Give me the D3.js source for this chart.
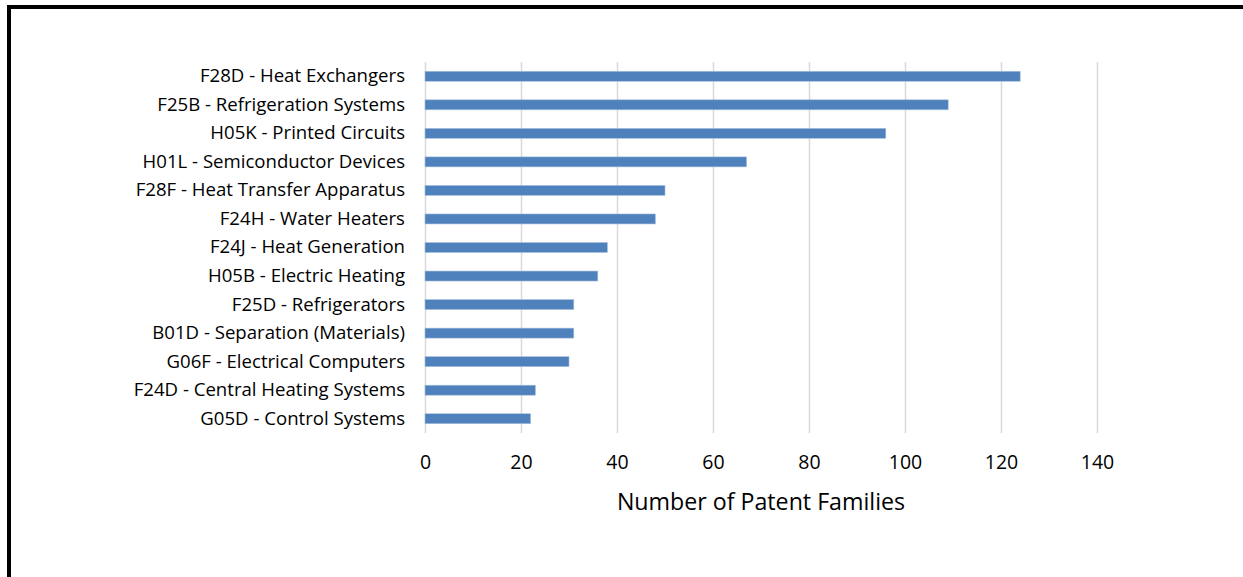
<!DOCTYPE html>
<html>
<head>
<meta charset="utf-8">
<script src="https://cdn.jsdelivr.net/npm/d3@7"></script>
<style>
  body { margin: 0; background: #fff; }
  svg { display: block; font-family: "Open Sans", sans-serif; }
  .grid line { stroke: #d9d9d9; stroke-width: 1.5; }
  .grid path { display: none; }
  .xaxis path, .xaxis line, .yaxis path, .yaxis line { display: none; }
</style>
</head>
<body>
<script>
const categories = [
  "F28D - Heat Exchangers",
  "F25B - Refrigeration Systems",
  "H05K - Printed Circuits",
  "H01L - Semiconductor Devices",
  "F28F - Heat Transfer Apparatus",
  "F24H - Water Heaters",
  "F24J - Heat Generation",
  "H05B - Electric Heating",
  "F25D - Refrigerators",
  "B01D - Separation (Materials)",
  "G06F - Electrical Computers",
  "F24D - Central Heating Systems",
  "G05D - Control Systems"
];
const values = [124, 109, 96, 67, 50, 48, 38, 36, 31, 31, 30, 23, 22];
const xTicks = [0, 20, 40, 60, 80, 100, 120, 140];
const xTitle = "Number of Patent Families";

const W = 1243, H = 577;
const plot = {left: 425, right: 1097, top: 62, bottom: 433};

const svg = d3.select("body").append("svg")
    .attr("width", W)
    .attr("height", H);

// outer frame (only top and left visible in the crop)
svg.append("rect")
    .attr("x", 9).attr("y", 7)
    .attr("width", W + 20).attr("height", H + 20)
    .attr("fill", "none")
    .attr("stroke", "#000")
    .attr("stroke-width", 4);

const x = d3.scaleLinear().domain([0, 140]).range([plot.left, plot.right]);
const y = d3.scaleBand().domain(categories)
    .range([plot.top, plot.bottom])
    .paddingInner(0.65)
    .paddingOuter(0.325);

// gridlines
svg.append("g")
    .attr("class", "grid")
    .attr("transform", "translate(0," + plot.bottom + ")")
    .call(d3.axisBottom(x).tickValues(xTicks).tickSize(-(plot.bottom - plot.top)).tickFormat(""));

// bars
svg.append("g").selectAll("rect")
    .data(values)
    .join("rect")
    .attr("x", x(0))
    .attr("y", (d, i) => y(categories[i]))
    .attr("width", d => x(d) - x(0))
    .attr("height", y.bandwidth())
    .attr("fill", "#4f81bd")
    .attr("stroke", "#a7c0de")
    .attr("stroke-width", 0.6);

// x axis labels
const xa = svg.append("g")
    .attr("class", "xaxis")
    .attr("transform", "translate(0," + plot.bottom + ")")
    .call(d3.axisBottom(x).tickValues(xTicks).tickSize(0).tickPadding(22));
xa.selectAll("text")
    .attr("font-size", 19.5)
    .attr("fill", "#000")
    .attr("font-family", "'Open Sans', sans-serif");

// y axis labels
const ya = svg.append("g")
    .attr("class", "yaxis")
    .attr("transform", "translate(" + plot.left + ",0)")
    .call(d3.axisLeft(y).tickSize(0).tickPadding(20));
ya.selectAll("text")
    .attr("font-size", 18.6)
    .attr("fill", "#000")
    .attr("font-family", "'Open Sans', sans-serif");

// axis title
svg.append("text")
    .attr("x", (plot.left + plot.right) / 2)
    .attr("y", 510)
    .attr("text-anchor", "middle")
    .attr("font-size", 23.2)
    .attr("fill", "#000")
    .text(xTitle);
</script>
</body>
</html>
